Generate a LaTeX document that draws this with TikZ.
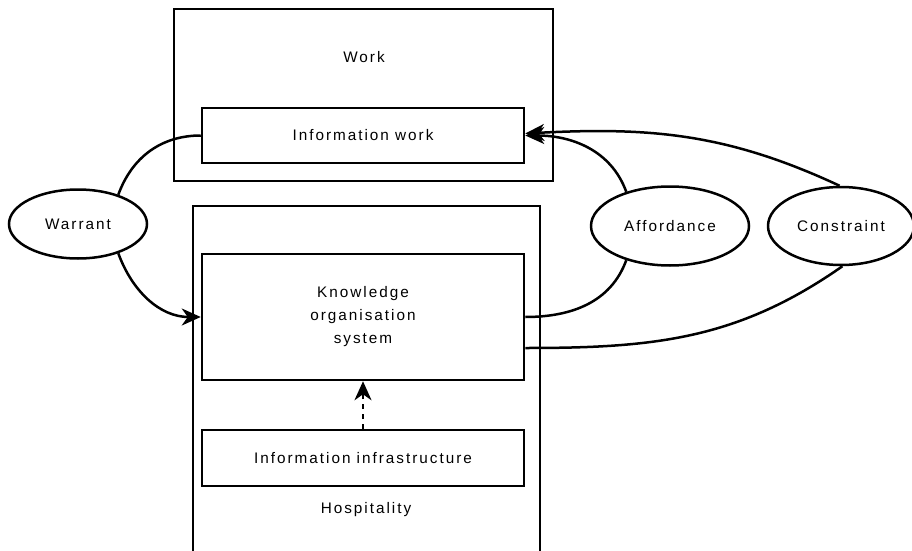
\documentclass[tikz,border=0pt]{standalone}
\usepackage{fontspec}
\setmainfont{Liberation Sans}
\newfontfamily\diafont[LetterSpace=13]{Liberation Sans}
\usepackage{tikz}
\usetikzlibrary{shapes.geometric, arrows.meta}
\tikzset{
    box/.style={draw, line width=2.5pt, rectangle, inner sep=0pt},
    oval/.style={draw, line width=2.5pt, ellipse, inner sep=0pt},
    link/.style={line width=2.5pt},
    headtip/.style={-{Stealth[length=19pt, width=17pt, inset=6pt]}},
    txt/.style={font=\diafont\fontsize{15.3}{23}\selectfont, align=center}
}

\begin{document}
\begin{tikzpicture}[x=1pt, y=1pt, every node/.append style={txt}]
   \clip (0, 0) rectangle (912, 550);
   \fill[white] (0, 0) rectangle (912, 550);

    % outer boxes
    \node[box, minimum width=379pt, minimum height=172pt] (work) at (363.5, 455) {};
    \node (worklabel) at (364, 493) {Work};
    \draw[line width=2.5pt] (193, -10) -- (193, 344) -- (540, 344) -- (540, -10);
    \node (hosplabel) at (366, 40) {Hospitality};

    % inner boxes
    \node[box, minimum width=322pt, minimum height=55pt] (infowork) at (363, 414.5) {Information work};
    \node[box, minimum width=322pt, minimum height=126pt] (kos) at (363, 233) {Knowledge\\organisation\\system};
    \node[box, minimum width=322pt, minimum height=56pt] (infra) at (363, 92) {Information infrastructure};

    % ellipses
    \node[oval, minimum width=138pt, minimum height=69pt] (warrant) at (78, 326) {Warrant};
    \node[oval, minimum width=158pt, minimum height=79pt] (afford) at (670, 324) {Affordance};
    \node[oval, minimum width=146pt, minimum height=78pt] (constr) at (841, 324) {Constraint};

    % connectors
    \draw[link] (warrant.36) to[out=70, in=180] (infowork.west);
    \draw[link, headtip] (warrant.-36) to[out=-70, in=180] (kos.west);
    \draw[link, headtip] (afford.142) to[out=110, in=0] (infowork.east);
    \draw[link, headtip] (constr.92) to[out=155, in=3] ([yshift=2pt]infowork.east);
    \draw[link] (afford.-142) to[out=-110, in=0] (kos.east);
    \draw[link] (constr.-88) to[out=-145, in=0] ([yshift=-31pt]kos.east);
    \draw[link, headtip, dash pattern=on 5pt off 5pt] (infra.north) -- (kos.south);
\end{tikzpicture}
\end{document}
